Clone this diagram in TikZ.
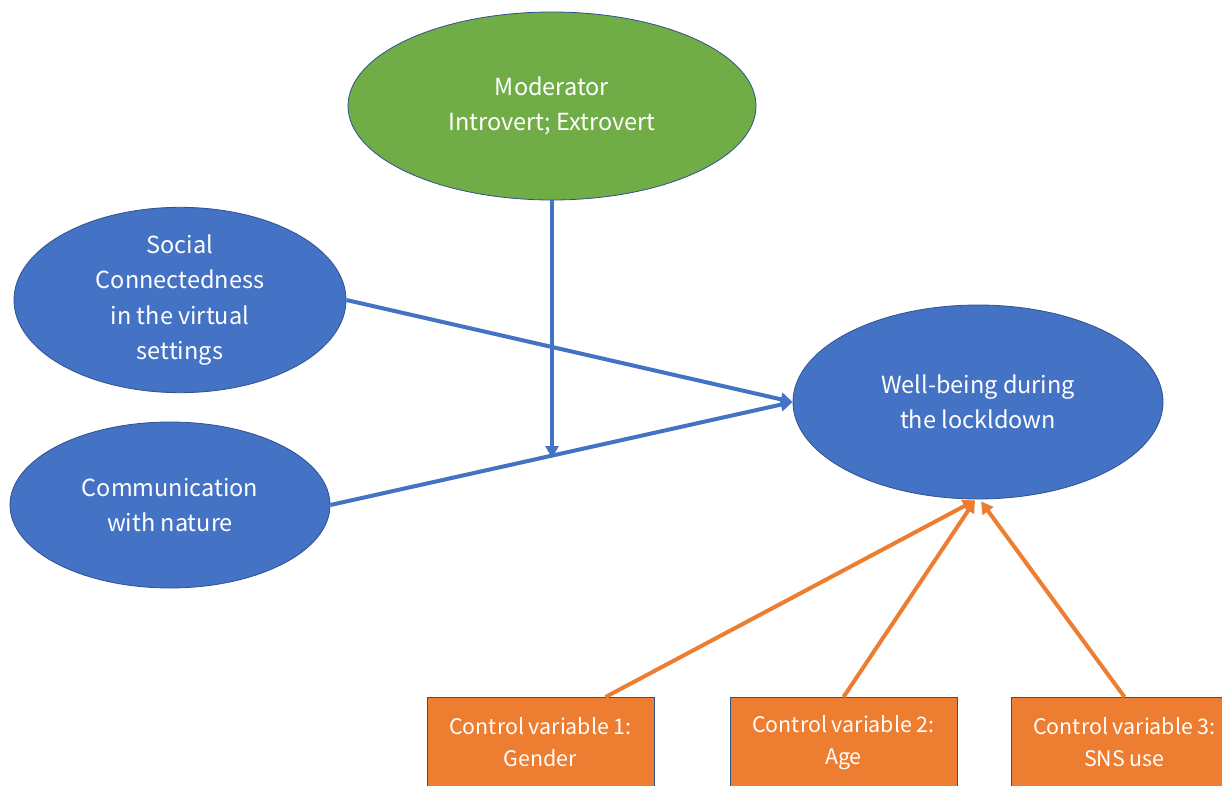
\documentclass[tikz,border=0pt]{standalone}
\usepackage{fontspec}
\setmainfont{Noto Sans CJK JP}
\usetikzlibrary{shapes.geometric,arrows.meta,calc}
\definecolor{ublue}{HTML}{4472C4}
\definecolor{ugreen}{HTML}{70AD47}
\definecolor{uorange}{HTML}{ED7D31}
\definecolor{uedge}{HTML}{2F528F}
\tikzset{
  oval/.style={ellipse, draw=uedge, line width=0.8pt, inner sep=0pt, text=white, align=center, font=\fontsize{23.5}{35.5}\selectfont},
  ctrlbox/.style={rectangle, draw=uedge, line width=0.8pt, fill=uorange, inner sep=0pt, minimum width=227pt, minimum height=90pt, text=white, align=center, font=\fontsize{21.4}{32}\selectfont},
  barr/.style={draw=ublue, line width=4pt, -{Triangle[length=12pt,width=13pt]}},
  oarr/.style={draw=uorange, line width=4pt, -{Triangle[length=12pt,width=13pt]}}
}
\begin{document}
\begin{tikzpicture}[x=1pt,y=-1pt]
\clip (0,0) rectangle (1222,786);
\fill[white] (0,0) rectangle (1222,786);
\node[oval, fill=ugreen, minimum width=408pt, minimum height=188pt] (mod) at (552,106) {Moderator\\Introvert; Extrovert};
\node[oval, fill=ublue, minimum width=332pt, minimum height=166pt] (soc) at (180,300) {Social\\Connectedness\\in the virtual\\settings};
\node[oval, fill=ublue, minimum width=320pt, minimum height=166pt] (com) at (170,505) {Communication\\with nature};
\node[oval, fill=ublue, minimum width=370pt, minimum height=194pt] (wb) at (978,402) {Well-being during\\the lockldown};
\node[ctrlbox, anchor=north] (c1) at (540.5,697) {Control variable 1:\\Gender};
\node[ctrlbox, anchor=north] (c2) at (843.5,697) {Control variable 2:\\Age};
\node[ctrlbox, anchor=north] (c3) at (1124.5,697) {Control variable 3:\\SNS use};
\coordinate (m) at (552,458);
\draw[barr] (soc.east) -- (wb.west);
\draw[barr] (com.east) -- (wb.west);
\draw[barr] (mod.south) -- (m);
\draw[oarr] ($(c1.north)+(65,0)$) -- ($(wb.south)+(-3,1)$);
\draw[oarr] (c2.north) -- ($(wb.south)+(-3,1)$);
\draw[oarr] (c3.north) -- ($(wb.south)+(3,2)$);
\end{tikzpicture}
\end{document}
